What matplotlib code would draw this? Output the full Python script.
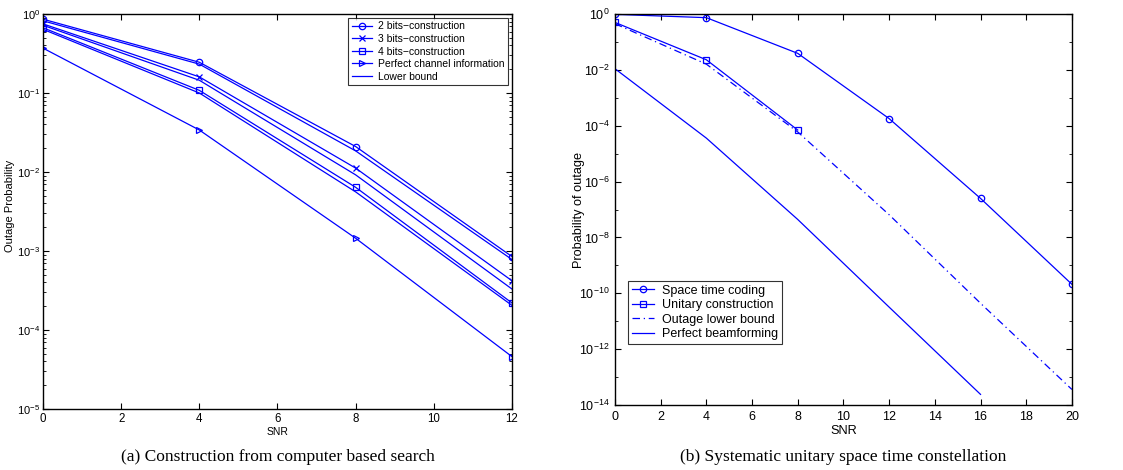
import matplotlib
matplotlib.use("Agg")
import matplotlib.pyplot as plt
import matplotlib.ticker as mticker
import numpy as np

plt.rcParams.update({
    "font.family": ["Liberation Sans", "DejaVu Sans"],
    "font.size": 8,
    "mathtext.fontset": "custom",
    "mathtext.rm": "Liberation Sans",
    "xtick.direction": "in",
    "ytick.direction": "in",
    "xtick.top": True,
    "ytick.right": True,
    "axes.linewidth": 1.0,
})

BLUE = "#0000ff"

# ---------------- (a) computer based search ----------------
snr_a = [0, 4, 8, 12]
bits2 = [0.86, 0.245, 0.021, 8.5e-4]
bits3 = [0.75, 0.160, 0.0112, 4.2e-4]
bits4 = [0.67, 0.108, 0.0064, 2.2e-4]
perfect_csi = [0.37, 0.034, 0.00145, 4.6e-5]
lb2 = [0.82, 0.232, 0.0185, 7.8e-4]
lb3 = [0.72, 0.145, 0.0092, 3.3e-4]
lb4 = [0.64, 0.100, 0.0056, 2.05e-4]

# ---------------- (b) systematic unitary ----------------
snr_stc = [0, 4, 8, 12, 16, 20]
stc = [0.97, 0.74, 0.039, 1.8e-4, 2.5e-7, 2.1e-10]
snr_uni = [0, 4, 8]
unitary = [0.5, 0.023, 7.0e-5]
snr_lb = [0, 4, 8, 12, 16, 20]
outage_lb = [0.45, 0.016, 6.0e-5, 6.5e-8, 4.4e-11, 3.6e-14]
snr_bf = [0, 4, 8, 12, 16]
beamforming = [0.011, 3.6e-5, 4.4e-8, 3.2e-11, 2.4e-14]

fig = plt.figure(figsize=(11.23, 4.70), dpi=100)
ax1 = fig.add_axes([0.0383, 0.1298, 0.4176, 0.8404])
ax2 = fig.add_axes([0.5476, 0.1383, 0.4069, 0.8319])

mk = dict(color=BLUE, lw=0.9, markersize=4.6, markerfacecolor="none",
          markeredgecolor=BLUE, markeredgewidth=0.9)

ax1.semilogy(snr_a, bits2, marker="o", label="2 bits\u2212construction", **mk)
ax1.semilogy(snr_a, bits3, marker="x", label="3 bits\u2212construction", **mk)
ax1.semilogy(snr_a, bits4, marker="s", label="4 bits\u2212construction", **{**mk, "markersize": 4})
ax1.semilogy(snr_a, perfect_csi, marker=">", label="Perfect channel information", **mk)
ax1.semilogy(snr_a, lb2, color=BLUE, lw=0.9, label="Lower bound")
ax1.semilogy(snr_a, lb3, color=BLUE, lw=0.9)
ax1.semilogy(snr_a, lb4, color=BLUE, lw=0.9)

ax1.set_xlim(0, 12)
ax1.set_ylim(1e-5, 1)
ax1.set_xticks(range(0, 13, 2))
ax1.yaxis.set_major_locator(mticker.LogLocator(base=10, numticks=10))
ax1.yaxis.set_minor_locator(mticker.LogLocator(base=10, subs=np.arange(2, 10), numticks=20))
ax1.yaxis.set_minor_formatter(mticker.NullFormatter())
ax1.set_xlabel("SNR", fontsize=7.5, labelpad=1.5)
ax1.set_ylabel("Outage Probability", fontsize=8)
ax1.yaxis.set_label_coords(-0.06, 0.515)
leg1 = ax1.legend(loc="upper right", fontsize=7.5, frameon=True, fancybox=False,
                  edgecolor="black", borderpad=0.35, labelspacing=0.25,
                  handlelength=1.9, handletextpad=0.6, borderaxespad=0.35)
leg1.get_frame().set_linewidth(0.8)

ax2.semilogy(snr_stc, stc, marker="o", label="Space time coding", **mk)
ax2.semilogy(snr_uni, unitary, marker="s", label="Unitary construction",
             **{**mk, "markersize": 4})
ax2.semilogy(snr_lb, outage_lb, color=BLUE, lw=0.9, linestyle=(0, (6, 3, 1, 3)),
             label="Outage lower bound")
ax2.semilogy(snr_bf, beamforming, color=BLUE, lw=0.9, label="Perfect beamforming")

ax2.set_xlim(0, 20)
ax2.set_ylim(1e-14, 1)
ax2.set_xticks(range(0, 21, 2))
ax2.set_yticks([10.0 ** -k for k in range(0, 15, 2)])
ax2.yaxis.set_minor_locator(mticker.FixedLocator([10.0 ** -k for k in range(1, 14, 2)]))
ax2.yaxis.set_minor_formatter(mticker.NullFormatter())
ax2.set_xlabel("SNR", fontsize=9.2, labelpad=2)
ax2.set_ylabel("Probability of outage", fontsize=9.2)
ax2.yaxis.set_label_coords(-0.0655, 0.5)
leg2 = ax2.legend(loc="lower left", bbox_to_anchor=(0.015, 0.14), fontsize=9,
                  frameon=True, fancybox=False, edgecolor="black", borderpad=0.3,
                  labelspacing=0.2, handlelength=1.8, handletextpad=0.6)
leg2.get_frame().set_linewidth(0.8)

ax1.tick_params(which="major", length=4, width=0.8, labelsize=8.3, pad=3)
ax1.tick_params(axis="y", which="major", labelsize=8, pad=2)
ax2.tick_params(which="major", length=4, width=0.8, labelsize=9, pad=4)
for ax in (ax1, ax2):
    ax.tick_params(which="minor", length=2, width=0.6)

fig.text(0.0383 + 0.4176 / 2, 0.028, "(a) Construction from computer based search",
         ha="center", va="center", family=["Liberation Serif", "DejaVu Serif"], fontsize=12.5)
fig.text(0.5476 + 0.4069 / 2, 0.028, "(b) Systematic unitary space time constellation",
         ha="center", va="center", family=["Liberation Serif", "DejaVu Serif"], fontsize=12.5)

fig.savefig("out.png", dpi=100)
